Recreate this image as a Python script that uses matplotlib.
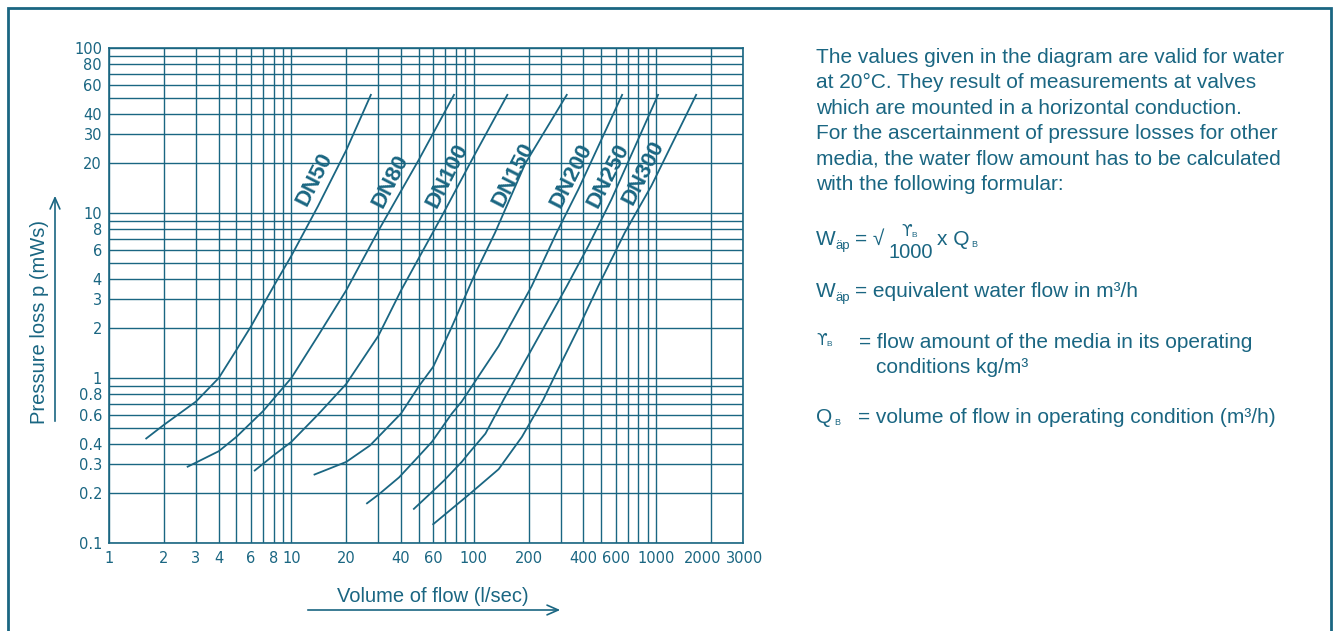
import matplotlib.pyplot as plt
import numpy as np
from matplotlib.ticker import NullLocator
from matplotlib.transforms import ScaledTranslation

W, H = 1339, 631
couleur = '#1a6682'
police = ['Liberation Sans', 'DejaVu Sans']

dn_noms = ['DN50', 'DN80', 'DN100', 'DN150', 'DN200', 'DN250', 'DN300']
dn50_x = [1.6, 2, 3, 4, 5, 6, 8, 10, 14, 20, 27.3]
dn50_y = [0.43, 0.52, 0.72, 1.0, 1.48, 2.05, 3.6, 5.5, 11, 24, 52]
dn80_x = [2.7, 4, 5, 7, 10, 14, 20, 30, 50, 78]
dn80_y = [0.29, 0.36, 0.44, 0.63, 1.0, 1.8, 3.4, 7.8, 21, 52]
dn100_x = [6.3, 8, 10, 14, 20, 30, 40, 67, 100, 153]
dn100_y = [0.275, 0.34, 0.41, 0.6, 0.92, 1.8, 3.4, 9.6, 22, 52]
dn150_x = [13.4, 20, 27, 40, 50, 60, 76, 100, 131, 192, 324]
dn150_y = [0.26, 0.31, 0.39, 0.61, 0.89, 1.17, 2.05, 4.1, 7.6, 20, 52]
dn200_x = [26, 30, 39, 48, 59, 76, 86, 137, 170, 208, 285, 375, 652]
dn200_y = [0.174, 0.196, 0.25, 0.32, 0.41, 0.61, 0.72, 1.56, 2.4, 3.6, 7.6, 13.9, 52]
dn250_x = [47, 58, 69, 86, 94, 116, 146, 170, 241, 324, 425, 570, 1026]
dn250_y = [0.161, 0.2, 0.24, 0.31, 0.35, 0.46, 0.74, 1.0, 2.0, 3.6, 6.3, 12.1, 52]
dn300_x = [60, 96, 137, 184, 241, 275, 375, 482, 674, 943, 1660]
dn300_y = [0.13, 0.2, 0.28, 0.44, 0.74, 1.0, 2.0, 3.6, 7.6, 14.6, 52]

# position des etiquettes DN
etiq_x = [13.4, 35, 71.5, 165, 344, 546, 849]
etiq_y = [16, 15.6, 16.8, 17.1, 16.8, 16.8, 17.6]

grille_x = [1, 2, 3, 4, 5, 6, 7, 8, 9, 10, 20, 30, 40, 50, 60, 70, 80, 90,
            100, 200, 300, 400, 500, 600, 700, 800, 900, 1000, 2000, 3000]
labels_x = ['1', '2', '3', '4', '6', '8', '10', '20', '40', '60', '100', '200',
            '400', '600', '1000', '2000', '3000']
grille_y = [0.1, 0.2, 0.3, 0.4, 0.5, 0.6, 0.7, 0.8, 0.9, 1, 2, 3, 4, 5, 6, 7, 8, 9,
            10, 20, 30, 40, 50, 60, 70, 80, 90, 100]
labels_y = ['0.1', '0.2', '0.3', '0.4', '0.6', '0.8', '1', '2', '3', '4', '6', '8',
            '10', '20', '30', '40', '60', '80', '100']


def fmt(v):
    if v < 1:
        return '%g' % v
    return '%d' % v


fig = plt.figure(figsize=(W / 100, H / 100), dpi=100)
ax = fig.add_axes([109 / W, 1 - 543 / H, (743 - 109) / W, (543 - 48) / H])
ax.set_xscale('log')
ax.set_yscale('log')
ax.set_xlim(1, 3000)
ax.set_ylim(0.1, 100)

ax.set_xticks(grille_x)
ax.set_xticklabels([fmt(v) if fmt(v) in labels_x else '' for v in grille_x])
ax.set_yticks(grille_y)
ax.set_yticklabels([fmt(v) if fmt(v) in labels_y else '' for v in grille_y])
ax.xaxis.set_minor_locator(NullLocator())
ax.yaxis.set_minor_locator(NullLocator())
ax.tick_params(length=0, labelsize=10.5, labelcolor=couleur)
ax.tick_params(axis='x', pad=6)
ax.tick_params(axis='y', pad=5)
ax.grid(True, color=couleur, linewidth=1.0)
for s in ax.spines.values():
    s.set_color(couleur)
    s.set_linewidth(1.2)

# le label 2000 est decale a gauche pour ne pas toucher 3000
for lab in ax.get_xticklabels():
    if lab.get_text() == '2000':
        lab.set_transform(lab.get_transform() + ScaledTranslation(-0.08, 0, fig.dpi_scale_trans))
    if lab.get_text() == '3000':
        lab.set_transform(lab.get_transform() + ScaledTranslation(0.02, 0, fig.dpi_scale_trans))

courbes = [(dn50_x, dn50_y), (dn80_x, dn80_y), (dn100_x, dn100_y), (dn150_x, dn150_y),
           (dn200_x, dn200_y), (dn250_x, dn250_y), (dn300_x, dn300_y)]
for (cx, cy) in courbes:
    ax.plot(cx, cy, color=couleur, linewidth=1.3, zorder=3)

for i in range(len(dn_noms)):
    ax.text(etiq_x[i], etiq_y[i], dn_noms[i], rotation=63, ha='center', va='center',
            fontsize=16, fontweight='bold', color=couleur, family=police, zorder=4)

# titres des axes avec fleches
fig.text(40 / W, 1 - 322 / H, 'Pressure loss p (mWs)', rotation=90, ha='center', va='center',
         fontsize=14.5, color=couleur, family=police)
fig.text(433 / W, 1 - 597 / H, 'Volume of flow (l/sec)', ha='center', va='center',
         fontsize=14.5, color=couleur, family=police)
fleche = dict(arrowstyle='->,head_length=0.8,head_width=0.35', color=couleur, lw=1.2)
ax.annotate('', xy=(55 / W, 1 - 193 / H), xytext=(55 / W, 1 - 424 / H),
            xycoords='figure fraction', textcoords='figure fraction', arrowprops=fleche)
ax.annotate('', xy=(563 / W, 1 - 610 / H), xytext=(305 / W, 1 - 610 / H),
            xycoords='figure fraction', textcoords='figure fraction', arrowprops=fleche)

# cadre
fig.add_artist(plt.Rectangle((8 / W, -0.1), (1331 - 8) / W, 1.1 - 8 / H,
                             transform=fig.transFigure, fill=False, ec=couleur, lw=2))


def texte(x, y, s, taille=15, fam=police, **kw):
    fig.text(x / W, 1 - y / H, s, fontsize=taille, color=couleur, va='baseline',
             family=fam, **kw)


lignes = ['The values given in the diagram are valid for water',
          'at 20°C. They result of measurements at valves',
          'which are mounted in a horizontal conduction.',
          'For the ascertainment of pressure losses for other',
          'media, the water flow amount has to be calculated',
          'with the following formular:']
for i, l in enumerate(lignes):
    texte(816, 63 + i * 25.4, l)

# formule
texte(816, 245, 'W')
texte(836, 249, 'äp', 9.5)
texte(855, 245, '= √')
texte(901, 236, 'ϒ', 11, ['DejaVu Sans'])
texte(911, 237, 'B', 6)
texte(888, 258, '1000', 14.5)
texte(937, 245, 'x Q')
texte(971, 247, 'B', 6.5)

texte(816, 297, 'W')
texte(836, 301, 'äp', 9.5)
texte(855, 297, '= equivalent water flow in m³/h')

texte(816, 345, 'ϒ', 11, ['DejaVu Sans'])
texte(826, 346, 'B', 6)
texte(859, 348, '= flow amount of the media in its operating')
texte(876, 373, 'conditions kg/m³')

texte(816, 423, 'Q')
texte(834, 425, 'B', 6.5)
texte(858, 423, '= volume of flow in operating condition (m³/h)')

plt.savefig('out.png', dpi=100)
plt.close()
